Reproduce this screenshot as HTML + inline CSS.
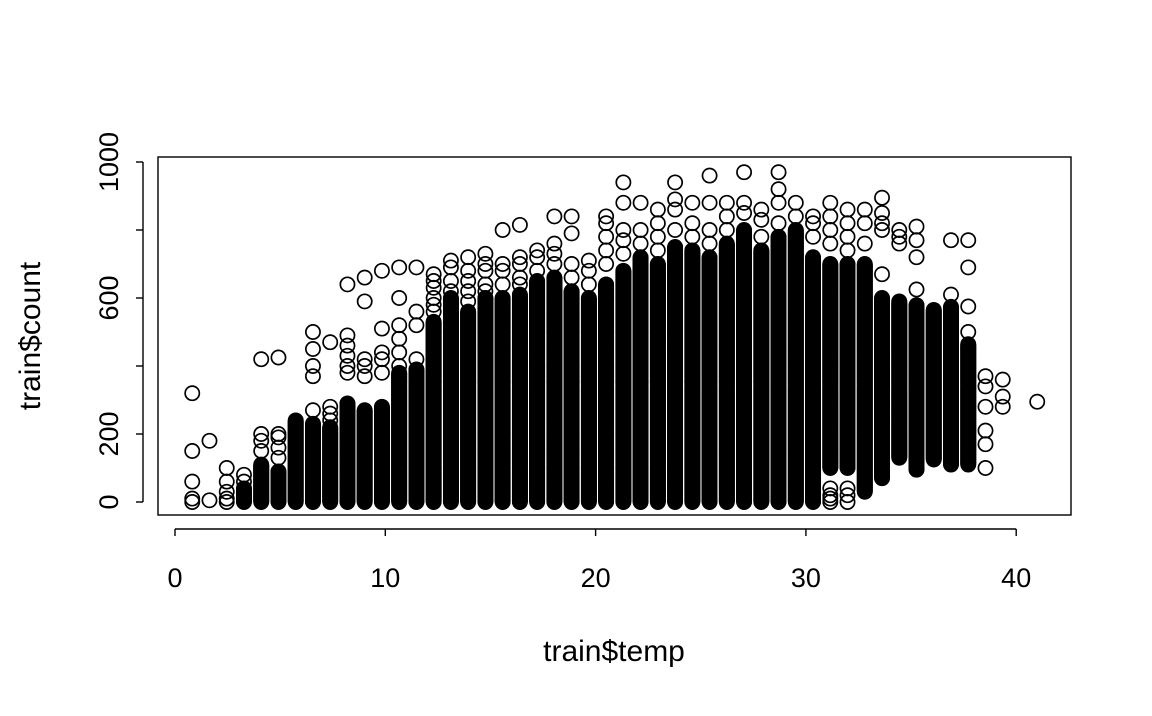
<!DOCTYPE html>
<html><head><meta charset="utf-8"><style>
body{margin:0;background:#fff}
svg text{font-family:"Liberation Sans",sans-serif;font-size:27px;fill:#000}
</style></head><body>
<svg width="1152" height="711" viewBox="0 0 1152 711">
<rect width="1152" height="711" fill="#fff"/>
<g id="pts"></g>
<rect x="158" y="157" width="913" height="358" fill="none" stroke="#000" stroke-width="1.4"/>
<g id="axes"></g>
<text x="614" y="661" text-anchor="middle" style="font-size:30px">train$temp</text>
<text transform="translate(40,336) rotate(-90)" text-anchor="middle" style="font-size:30px">train$count</text>
</svg>
<script>
const temps = [0.82,1.64,2.46,3.28,4.1,4.92,5.74,6.56,7.38,8.2,9.02,9.84,10.66,11.48,12.3,13.12,13.94,14.76,15.58,16.4,17.22,18.04,18.86,19.68,20.5,21.32,22.14,22.96,23.78,24.6,25.42,26.24,27.06,27.88,28.7,29.52,30.34,31.16,31.98,32.8,33.62,34.44,35.26,36.08,36.9,37.72,38.54,39.36,41.0];
const denseLo = [0,0,0,0,0,0,0,0,0,0,0,0,0,0,0,0,0,0,0,0,0,0,0,0,0,0,0,0,0,0,0,0,0,0,0,0,0,100,100,30,70,130,95,125,110,110,0,0,0];
const denseHi = [0,0,0,40,110,90,240,230,220,290,270,280,380,390,530,600,560,600,600,610,650,660,620,600,640,680,720,700,750,740,720,760,800,740,780,800,720,700,700,700,600,590,580,565,575,465,0,0,0];
const extras = [
[0,10,60,150,320],[5,180],[0,10,30,60,100],[60,80],[150,180,200,420],[130,160,190,200,425],[],
[270,370,400,450,500],[240,260,280,470],[380,400,430,460,490,640],[370,400,420,590,660],[380,420,440,510,680],
[400,440,480,520,600,690],[420,520,560,690],[560,580,600,630,650,670],[620,650,690,710],[590,620,650,680,720],
[620,640,680,700,730],[640,680,700,800],[640,660,700,720,815],[680,720,740],[700,730,760,840],[660,700,790,840],
[640,680,710],[700,740,780,820,840],[730,770,800,880,940],[760,800,880],[740,780,820,860],[800,860,890,940],
[780,820,880],[760,800,880,960],[800,840,880],[850,880,970],[780,830,860],[820,880,920,970],[840,880],
[780,820,840],[0,10,20,40,760,800,840,880],[0,20,40,740,780,820,860],[760,820,860],[670,800,820,850,895],
[760,780,800],[625,720,770,810],[],[610,770],[500,575,690,770],[100,170,210,280,340,370],[280,310,360],[295]
];
const xTicks=[0,10,20,30,40];
const yTicks=[0,200,400,600,800,1000];
const yLabels=["0","200","","600","","1000"];
const X=t=>175+t*21.03, Y=c=>502-c*0.34;
const NS="http://www.w3.org/2000/svg";
const g=document.getElementById('pts');
function pt(t,c){const e=document.createElementNS(NS,'circle');
e.setAttribute('cx',X(t));e.setAttribute('cy',Y(c));e.setAttribute('r',7.1);
e.setAttribute('fill','none');e.setAttribute('stroke','#000');e.setAttribute('stroke-width','1.7');


g.appendChild(e);}
temps.forEach((t,i)=>{
 if(denseHi[i]>denseLo[i]){for(let c=denseLo[i];c<=denseHi[i];c+=2)pt(t,c);}
 extras[i].forEach(c=>pt(t,c));
});
const a=document.getElementById('axes');
function ln(x1,y1,x2,y2,n){const e=document.createElementNS(NS,'line');
e.setAttribute('x1',x1);e.setAttribute('y1',y1);e.setAttribute('x2',x2);e.setAttribute('y2',y2);
e.setAttribute('stroke','#000');e.setAttribute('stroke-width','1.4');


a.appendChild(e);}
function tx(x,y,s,rot,n){const e=document.createElementNS(NS,'text');
e.setAttribute('text-anchor','middle');
if(rot)e.setAttribute('transform',`translate(${x},${y}) rotate(-90)`);else{e.setAttribute('x',x);e.setAttribute('y',y);}
e.textContent=s;


a.appendChild(e);}
ln(X(0),529,X(40),529,'x-axis-line');
xTicks.forEach(v=>{ln(X(v),529,X(v),536,'x-tick');tx(X(v),587,String(v),false,'x-tick-label');});
ln(143,Y(0),143,Y(1000),'y-axis-line');
yTicks.forEach((v,i)=>{ln(136,Y(v),143,Y(v),'y-tick');if(yLabels[i])tx(118,Y(v),yLabels[i],true,'y-tick-label');});
</script>
</body></html>
